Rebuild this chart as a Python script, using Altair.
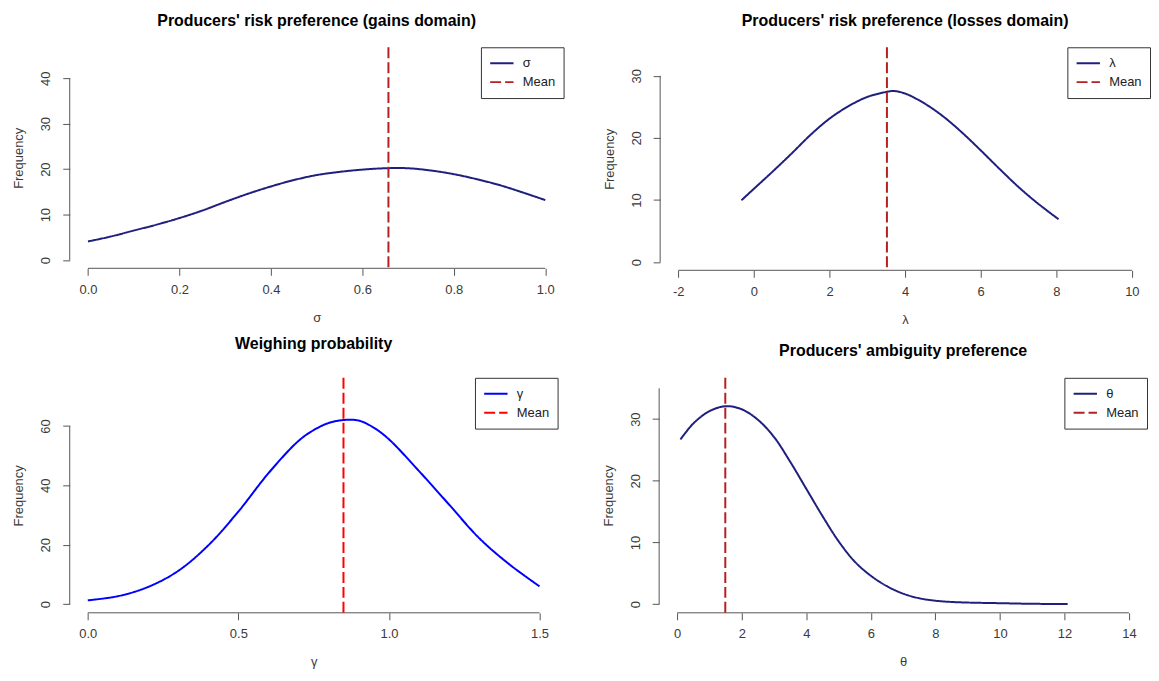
import altair as alt
import pandas as pd

# ---- data ----
sigma_x = [0.0, 0.05, 0.1, 0.15, 0.2, 0.25, 0.3, 0.35, 0.4, 0.45, 0.5, 0.55, 0.6, 0.65, 0.7, 0.75, 0.8, 0.85, 0.9, 0.95, 1.0]
sigma_y = [4.1, 5.2, 6.5, 7.8, 9.25, 10.9, 12.8, 14.6, 16.2, 17.6, 18.7, 19.4, 19.9, 20.2, 20.2, 19.7, 18.9, 17.8, 16.5, 14.9, 13.2]
sigma_mean = 0.657

lambda_x = [-0.33, 0.0, 0.5, 1.0, 1.5, 2.0, 2.5, 3.0, 3.5, 3.7, 4.0, 4.5, 5.0, 5.5, 6.0, 6.5, 7.0, 7.5, 8.06]
lambda_y = [9.95, 11.8, 14.6, 17.5, 20.5, 23.1, 25.1, 26.6, 27.4, 27.55, 27.15, 25.6, 23.5, 20.9, 18.0, 15.0, 12.1, 9.5, 6.9]
lambda_mean = 3.52

gamma_x = [0.0, 0.1, 0.2, 0.3, 0.4, 0.5, 0.6, 0.7, 0.75, 0.8, 0.85, 0.9, 0.95, 1.0, 1.1, 1.2, 1.3, 1.4, 1.5]
gamma_y = [1.3, 2.7, 5.8, 11.2, 19.8, 31.2, 44.1, 55.0, 58.6, 61.0, 62.0, 61.8, 59.4, 55.5, 44.8, 33.5, 22.2, 13.4, 6.0]
gamma_mean = 0.849

theta_x = [0.1, 0.5, 1.0, 1.5, 2.0, 2.5, 3.0, 3.5, 4.0, 4.5, 5.0, 5.5, 6.0, 6.5, 7.0, 7.5, 8.0, 8.5, 9.0, 10.0, 11.0, 12.1]
theta_y = [26.7, 29.3, 31.3, 32.1, 31.6, 29.9, 27.1, 23.1, 18.7, 14.3, 10.2, 6.9, 4.6, 2.9, 1.7, 0.95, 0.55, 0.35, 0.25, 0.15, 0.05, 0.02]
theta_mean = 1.49

FONT = "Liberation Sans"
AXIS_COL = "#555555"
TEXT_COL = "#3a3a3a"


def panel(xs, ys, mean, sym, curve_col, mean_col, title, xdom, ydom, xticks, yticks,
          xlabel_expr, w, h, title_offset, title_dy=0):
    curve = pd.DataFrame({"x": xs, "y": ys, "s": sym})
    mline = pd.DataFrame({"x": [mean], "s": ["Mean"]})
    xaxis_line = pd.DataFrame({"x": [xticks[0]], "x2": [xticks[-1]], "y": [ydom[0]]})
    yaxis_line = pd.DataFrame({"x": [xdom[0]], "y": [yticks[0]], "y2": [yticks[-1]]})

    leg = dict(title=None, orient="top-right", offset=0, padding=8,
               strokeColor="#333333", fillColor="white", symbolType="stroke",
               symbolSize=550, symbolStrokeWidth=2, labelFontSize=13, labelFont=FONT,
               labelColor="#222222", rowPadding=3, labelOffset=8, cornerRadius=0,
               clipHeight=16)
    color = alt.Color("s:N", scale=alt.Scale(domain=[sym, "Mean"], range=[curve_col, mean_col]),
                      legend=alt.Legend(**leg))
    dash = alt.StrokeDash("s:N", scale=alt.Scale(domain=[sym, "Mean"], range=[[1, 0], [11, 4]]),
                          legend=alt.Legend(**leg))

    xscale = alt.Scale(domain=xdom, nice=False, zero=False)
    yscale = alt.Scale(domain=ydom, nice=False, zero=False)
    xaxis = alt.Axis(values=xticks, domain=False, grid=False, tickSize=7, tickColor=AXIS_COL,
                     labelExpr=xlabel_expr, labelFont=FONT, labelFontSize=13, labelColor=TEXT_COL,
                     labelPadding=8, labelOverlap=False, title=sym, titleFont=FONT,
                     titleFontSize=13, titleFontWeight="normal", titleColor=TEXT_COL,
                     titlePadding=15)
    yaxis = alt.Axis(values=yticks, domain=False, grid=False, tickSize=7, tickColor=AXIS_COL,
                     labelAngle=270, labelFont=FONT, labelFontSize=13, labelColor=TEXT_COL,
                     labelPadding=10, labelOverlap=False, title="Frequency", titleFont=FONT,
                     titleFontSize=13, titleFontWeight="normal", titleColor=TEXT_COL,
                     titlePadding=14)

    base_line = alt.Chart(curve).mark_line(strokeWidth=2, interpolate="catmull-rom").encode(
        x=alt.X("x:Q", scale=xscale, axis=xaxis),
        y=alt.Y("y:Q", scale=yscale, axis=yaxis),
        color=color, strokeDash=dash)
    mean_rule = alt.Chart(mline).mark_rule(strokeWidth=2).encode(
        x=alt.X("x:Q"), color=color, strokeDash=dash)
    xl = alt.Chart(xaxis_line).mark_rule(color=AXIS_COL, strokeWidth=1).encode(
        x=alt.X("x:Q"), x2="x2:Q", y=alt.Y("y:Q"))
    yl = alt.Chart(yaxis_line).mark_rule(color=AXIS_COL, strokeWidth=1).encode(
        x=alt.X("x:Q"), y=alt.Y("y:Q"), y2="y2:Q")

    return alt.layer(xl, yl, base_line, mean_rule).properties(
        width=w, height=h,
        title=alt.TitleParams(title, font=FONT, fontSize=16, fontWeight="bold", color="black",
                              anchor="middle", frame="group", offset=title_offset, dy=title_dy))


fmt1 = "format(datum.value, '.1f')"
fmtd = "'' + datum.value"

p1 = panel(sigma_x, sigma_y, sigma_mean, "σ", "#1f1f7e", "#b22222",
           "Producers' risk preference (gains domain)",
           [-0.04, 1.04], [-1.8, 46.8], [0, 0.2, 0.4, 0.6, 0.8, 1.0], [0, 10, 20, 30, 40],
           fmt1, 496, 222, 17)
p2 = panel(lambda_x, lambda_y, lambda_mean, "λ", "#1f1f7e", "#b22222",
           "Producers' risk preference (losses domain)",
           [-2.48, 10.48], [-1.33, 34.6], [-2, 0, 2, 4, 6, 8, 10], [0, 5, 10, 15, 20, 25, 30],
           fmtd, 492, 224, 17)
p3 = panel(gamma_x, gamma_y, gamma_mean, "γ", "#0000ff", "#ff0000",
           "Weighing probability",
           [-0.06, 1.56], [-2.9, 76.2], [0, 0.5, 1.0, 1.5], [0, 20, 40, 60],
           fmt1, 490, 236, 25)
p4 = panel(theta_x, theta_y, theta_mean, "θ", "#1f1f7e", "#b22222",
           "Producers' ambiguity preference",
           [-0.56, 14.56], [-1.41, 36.7], [0, 2, 4, 6, 8, 10, 12, 14], [0, 5, 10, 15, 20, 25, 30, 35],
           fmtd, 490, 236, 25, 7)


def indep(c):
    return c.resolve_scale(color="independent", strokeDash="independent",
                           x="independent", y="independent").resolve_legend(
        color="independent", strokeDash="independent")


row1 = indep(alt.hconcat(p1, p2, spacing=38))
row2 = indep(alt.hconcat(p3, p4, spacing=44))

chart = indep(alt.vconcat(row1, row2, spacing=10)).properties(
    padding={"left": 4, "top": 4, "right": 0, "bottom": 0}, background="white"
).configure_view(stroke="transparent", strokeWidth=0)

chart.save("out.html", embed_options={"renderer": "svg", "actions": False})
